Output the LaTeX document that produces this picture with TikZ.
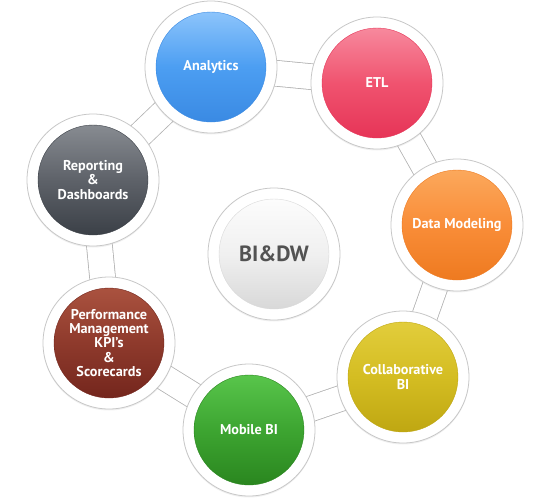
\documentclass[tikz,border=0pt]{standalone}
\usepackage{fontspec}
\setmainfont{PT Sans}
\usetikzlibrary{backgrounds,shadows}
\definecolor{anaT}{HTML}{8CC4FB}\definecolor{anaM}{HTML}{4C9EF2}\definecolor{anaB}{HTML}{3A8AE3}
\definecolor{etlT}{HTML}{F7899D}\definecolor{etlM}{HTML}{F0536F}\definecolor{etlB}{HTML}{E63457}
\definecolor{dmT}{HTML}{FBA85C}\definecolor{dmM}{HTML}{F98D38}\definecolor{dmB}{HTML}{EE7A20}
\definecolor{colT}{HTML}{E2CD3C}\definecolor{colM}{HTML}{D4BD22}\definecolor{colB}{HTML}{BFA712}
\definecolor{mobT}{HTML}{58C54B}\definecolor{mobM}{HTML}{3DA531}\definecolor{mobB}{HTML}{2A861F}
\definecolor{perT}{HTML}{AA523F}\definecolor{perM}{HTML}{8E3A2C}\definecolor{perB}{HTML}{74261D}
\definecolor{repT}{HTML}{878B91}\definecolor{repM}{HTML}{5E6269}\definecolor{repB}{HTML}{3B4047}
\definecolor{bidT}{HTML}{FCFCFC}\definecolor{bidM}{HTML}{F0F0F0}\definecolor{bidB}{HTML}{D8D8D8}
\begin{document}
\begin{tikzpicture}[x=1pt,y=-1pt,
  ring/.style={circle, fill=white, draw=black!22, line width=0.8pt,
    minimum size=132pt, inner sep=0pt,
    drop shadow={opacity=0.12, shadow xshift=0pt, shadow yshift=-1.5pt}},
  ball/.style n args={3}{circle, minimum size=110pt, inner sep=0pt,
    top color=#1, bottom color=#3, middle color=#2, draw=#3, line width=0.4pt,
    text=white, align=center, font=\fontsize{14.2}{14.2}\selectfont\bfseries},
  band/.style={draw=black!30, line width=0.8pt, double=white, double distance=25pt}]
\useasboundingbox (0,0) rectangle (550,499);
% rings
\node[ring] (anaR) at (211,67) {};
\node[ring] (etlR) at (377,83) {};
\node[ring] (dmR) at (457,225) {};
\node[ring] (colR) at (403,377) {};
\node[ring] (mobR) at (249,430) {};
\node[ring] (perR) at (109,343) {};
\node[ring] (repR) at (93,180) {};
\node[ring] (bidR) at (274,254) {};
% balls
\node[ball={anaT}{anaM}{anaB}] (ana) at (anaR) {Analytics};
\node[ball={etlT}{etlM}{etlB}] (etl) at (etlR) {ETL};
\node[ball={dmT}{dmM}{dmB}] (dm) at (dmR) {Data Modeling};
\node[ball={colT}{colM}{colB}] (col) at (colR) {Collaborative\\BI};
\node[ball={mobT}{mobM}{mobB}] (mob) at (mobR) {Mobile BI};
\node[ball={perT}{perM}{perB}] (per) at (perR) {Performance\\Management\\KPI’s\\\&\\Scorecards};
\node[ball={repT}{repM}{repB}] (rep) at (repR) {Reporting\\\&\\Dashboards};
\node[ball={bidT}{bidM}{bidB}, draw=black!15, text=black!68,
  font=\fontsize{22}{24}\selectfont\bfseries] (bid) at (bidR) {BI\&DW};
% connectors
\begin{scope}[on background layer]
\foreach \a/\b in {anaR/etlR, etlR/dmR, dmR/colR, colR/mobR, mobR/perR, perR/repR, repR/anaR}
  \draw[band] (\a.center) -- (\b.center);
\end{scope}
\end{tikzpicture}
\end{document}
